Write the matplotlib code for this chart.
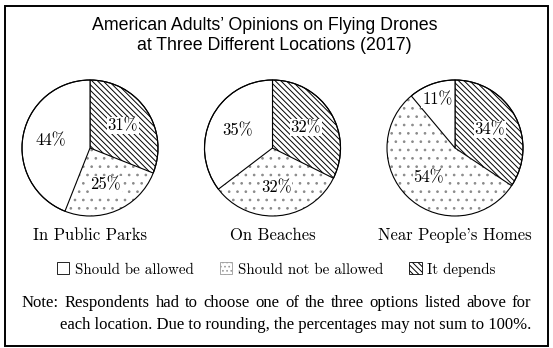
import matplotlib
matplotlib.use("Agg")
import matplotlib.pyplot as plt
from matplotlib.patches import Rectangle, Circle
import numpy as np

# data
locations = ["In Public Parks", "On Beaches", "Near People's Homes"]
options = ["It depends", "Should not be allowed", "Should be allowed"]
depends = [31, 32, 34]
not_allowed = [25, 32, 54]
allowed = [44, 35, 11]

BS = chr(92)
hatches = [BS * 6, "..", ""]
legend_order = [2, 1, 0]

W, H = 553, 348
plt.rcParams["hatch.linewidth"] = 0.7
fig = plt.figure(figsize=(W / 100, H / 100), dpi=100)

cm = "cmr10"

# frame around everything
fig.add_artist(Rectangle((5 / W, 1 - 346 / H), 543 / W, 340 / H,
                         transform=fig.transFigure, fill=False,
                         lw=1.4, ec="black"))

fig.text(265 / W, 1 - 25 / H, "American Adults’ Opinions on Flying Drones",
         ha="center", va="center", fontsize=12.8, family="Liberation Sans")
fig.text(274 / W, 1 - 45 / H, "at Three Different Locations (2017)",
         ha="center", va="center", fontsize=12.8, family="Liberation Sans")

centers = [90, 272.5, 455]
cy = 148
half = 85  # axes half-size in px, pie radius = half / 1.25
wedge_sets = []
for i, loc in enumerate(locations):
    vals = [depends[i], not_allowed[i], allowed[i]]
    ax = fig.add_axes([(centers[i] - half) / W, (H - cy - half) / H,
                       2 * half / W, 2 * half / H])
    wedges, _ = ax.pie(vals, startangle=90, counterclock=False,
                       colors=["white"] * 3,
                       wedgeprops=dict(edgecolor="black", linewidth=0.8))
    for w, h in zip(wedges, hatches):
        w.set_hatch(h)
    # dotted wedge: grey dots, outline redrawn in black
    wedges[1].set_edgecolor("#8a8a8a")
    wedges[1].set_linewidth(0)
    wedges[1].set_zorder(0.5)
    ax.add_patch(Circle((0, 0), 1, fill=False, ec="black", lw=0.8, zorder=3))
    wedge_sets.append(wedges)
    for w, v in zip(wedges, vals):
        mid = np.deg2rad((w.theta1 + w.theta2) / 2)
        d = 0.58 if v > 15 else 0.76
        ax.text(d * np.cos(mid), d * np.sin(mid), f"{v}%",
                ha="center", va="center", fontsize=12, family=cm, zorder=4,
                bbox=dict(boxstyle="square,pad=0.05", fc="white", ec="none"))
    ax.set_aspect("equal")
    fig.text(centers[i] / W, 1 - 235 / H, loc, ha="center", va="center",
             fontsize=12, family=cm)

handles = [wedge_sets[0][k] for k in legend_order]
labels = [options[k] for k in legend_order]
leg = fig.legend(handles, labels, loc="center",
                 bbox_to_anchor=(276 / W, 1 - 269.5 / H),
                 ncol=3, frameon=False, prop=dict(family=cm, size=10.8),
                 handlelength=0.85, handleheight=0.85, handletextpad=0.35,
                 columnspacing=1.75, borderpad=0)
for p in leg.get_patches():
    p.set_edgecolor("black")
    p.set_linewidth(0.6)
# dotted legend box: finer grey dots
leg.get_patches()[1].set_edgecolor("#9a9a9a")
leg.get_patches()[1].set_hatch("....")

# note, first line justified between the margins
note1 = "Note: Respondents had to choose one of the three options listed above for"
note2 = "each location. Due to rounding, the percentages may not sum to 100%."
nfont = dict(fontsize=12, family="Liberation Serif", va="center")
x0, x1 = 22, 531
renderer = fig.canvas.get_renderer()
words = note1.split(" ")
tw = []
for wd in words:
    t = fig.text(0, 0, wd, **nfont)
    tw.append(t.get_window_extent(renderer).width)
    t.remove()
gap = (x1 - x0 - sum(tw)) / (len(words) - 1)
x = x0
for wd, w_ in zip(words, tw):
    fig.text(x / W, 1 - 303 / H, wd, ha="left", **nfont)
    x += w_ + gap
fig.text(x1 / W, 1 - 325 / H, note2, ha="right", **nfont)

fig.savefig("out.png", dpi=100)
